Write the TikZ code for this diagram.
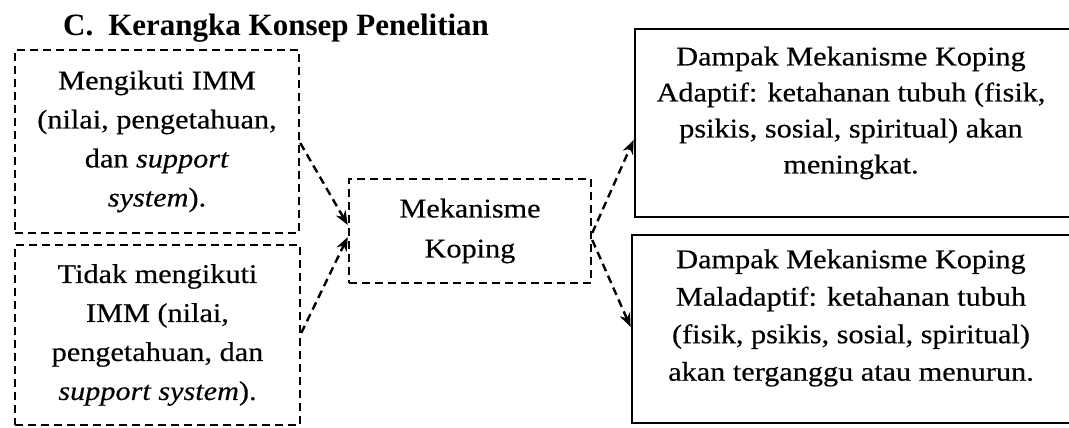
\documentclass[tikz,border=0pt]{standalone}
\usepackage{fontspec}
\setmainfont{Liberation Serif}
\newfontfamily\bodyfont[FakeStretch=1.12,FakeBold=0.4]{Liberation Serif}
\usetikzlibrary{arrows.meta,calc}
\tikzset{
  dbox/.style={draw=black, line width=2.5pt, dash pattern=on 8pt off 5pt, rectangle, inner sep=0pt, align=center,
    font=\bodyfont\fontsize{27}{39}\selectfont},
  sbox/.style={draw=black, line width=2.8pt, rectangle, inner sep=0pt},
  txt/.style={inner sep=0pt, align=center},
  darrow/.style={line width=2.4pt, dash pattern=on 8pt off 5pt, -{Stealth[length=14pt,width=11pt]}},
}
\begin{document}
\begin{tikzpicture}[x=1pt,y=-1pt]
\useasboundingbox (0,0) rectangle (1069,428);
\node[anchor=base west, inner sep=0pt, font=\fontsize{31}{31}\selectfont\bfseries] (title) at (63,36) {C.\hspace{15pt}Kerangka Konsep Penelitian};
\node[dbox, minimum width=284, minimum height=183] (b1) at (157,141.5)
  {Mengikuti IMM\\(nilai, pengetahuan,\\dan \textit{support}\\\textit{system}).};
\node[dbox, minimum width=285, minimum height=180] (b2) at (157.5,335)
  {Tidak mengikuti\\IMM (nilai,\\pengetahuan, dan\\\textit{support system}).};
\node[dbox, minimum width=242, minimum height=104, font=\bodyfont\fontsize{27}{40}\selectfont] (mek) at (470,231)
  {Mekanisme\\Koping};
\node[sbox, minimum width=435, minimum height=188] (r1) at (852.5,123) {};
\node[txt, font=\bodyfont\fontsize{27}{36}\selectfont] (r1t) at (851,113)
  {Dampak Mekanisme Koping\\Adaptif: ketahanan tubuh (fisik,\\psikis, sosial, spiritual) akan\\meningkat.};
\node[sbox, minimum width=438, minimum height=188] (r2) at (851,329) {};
\node[txt, font=\bodyfont\fontsize{27}{37.5}\selectfont] (r2t) at (851,318)
  {Dampak Mekanisme Koping\\Maladaptif: ketahanan tubuh\\(fisik, psikis, sosial, spiritual)\\akan terganggu atau menurun.};
\coordinate (a1s) at (b1.east |- 0,143);
\coordinate (a1e) at (mek.west |- 0,225);
\coordinate (a2s) at (b2.east |- 0,333);
\coordinate (a2e) at (mek.west |- 0,237);
\coordinate (a3s) at (mek.east |- 0,233);
\coordinate (a3e) at (r1.west |- 0,140);
\coordinate (a4s) at (mek.east |- 0,240);
\coordinate (a4e) at (r2.west |- 0,327);
\draw[darrow] (a1s) -- (a1e);
\draw[darrow] (a2s) -- (a2e);
\draw[darrow] (a3s) -- (a3e);
\draw[darrow] (a4s) -- (a4e);
\end{tikzpicture}
\end{document}
